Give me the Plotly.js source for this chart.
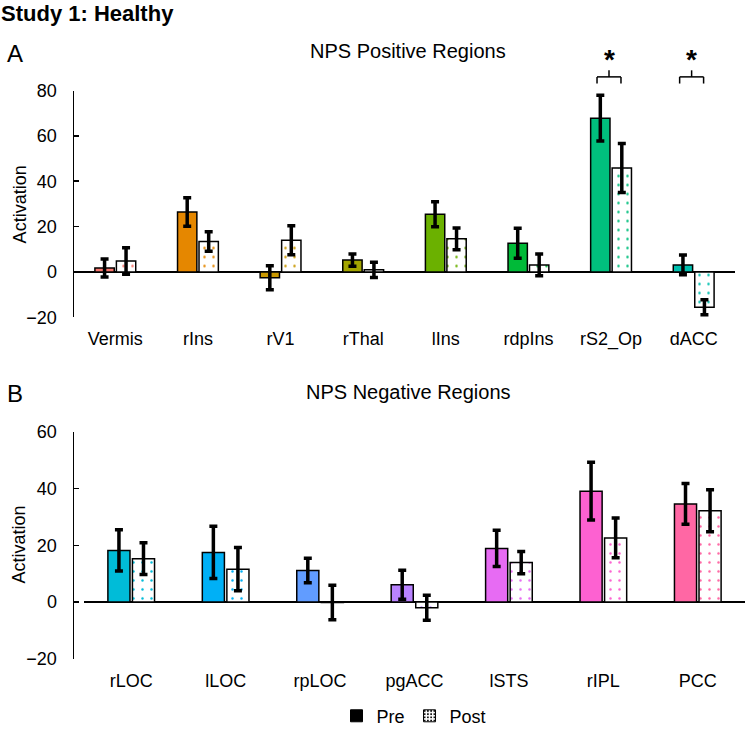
<!DOCTYPE html>
<html>
<head>
<meta charset="utf-8">
<script src="https://cdn.plot.ly/plotly-3.0.1.min.js"></script>
<style>html,body{margin:0;padding:0;background:#fff;}#chart{width:745px;height:735px;}</style>
</head>
<body>
<div id="chart"></div>
<script>
// ---- Data ----
const regionsA = ['Vermis', 'rIns', 'rV1', 'rThal', 'lIns', 'rdpIns', 'rS2_Op', 'dACC'];
const preA = [1.7, 26.4, -2.6, 5.2, 25.4, 12.6, 67.8, 3.1];
const preErrA = [4.0, 6.3, 5.3, 2.7, 5.5, 6.6, 10.1, 4.4];
const postA = [4.8, 13.4, 14.0, 0.9, 14.6, 3.1, 45.8, -15.6];
const postErrA = [5.8, 4.3, 6.4, 3.4, 4.8, 4.8, 10.8, 3.3];
const colorsA = ['#F8766D', '#E58700', '#C99800', '#A3A500', '#6BB100', '#00BA38', '#00BF7D', '#00C0AF'];
const significantA = ['rS2_Op', 'dACC'];

const regionsB = ['rLOC', 'lLOC', 'rpLOC', 'pgACC', 'lSTS', 'rIPL', 'PCC'];
const preB = [18.2, 17.5, 11.1, 6.1, 18.9, 39.1, 34.6];
const preErrB = [7.3, 9.2, 4.3, 5.1, 6.4, 10.2, 7.2];
const postB = [15.3, 11.6, -0.2, -2.0, 13.9, 22.6, 32.2];
const postErrB = [5.6, 7.6, 6.1, 4.4, 3.9, 7.0, 7.4];
const colorsB = ['#00BCD8', '#00B0F6', '#619CFF', '#B983FF', '#E76BF3', '#FD61D1', '#FF67A4'];

const ticksA = [-20, 0, 20, 40, 60, 80];
const ticksB = [-20, 0, 20, 40, 60];
const legendNames = ['Pre', 'Post'];

// ---- Styles ----
const FONT = 'Liberation Sans, Arial, sans-serif';
const lineStyle = {color: '#000', width: 1.5};
const errStyle = {type: 'data', color: '#000', thickness: 3.5, width: 4, visible: true};

function preTrace(x, y, err, colors, xa, ya) {
  return {type: 'bar', x: x, y: y, xaxis: xa, yaxis: ya, showlegend: false,
    marker: {color: colors, line: lineStyle},
    error_y: Object.assign({array: err}, errStyle), hoverinfo: 'x+y'};
}
function postTrace(x, y, err, colors, xa, ya) {
  return {type: 'bar', x: x, y: y, xaxis: xa, yaxis: ya, showlegend: false,
    marker: {color: '#fff', line: lineStyle,
      pattern: {shape: '.', fgcolor: colors, bgcolor: '#fff', size: 9, solidity: 0.06}},
    error_y: Object.assign({array: err}, errStyle), hoverinfo: 'x+y'};
}

const traces = [
  preTrace(regionsA, preA, preErrA, colorsA, 'x', 'y'),
  postTrace(regionsA, postA, postErrA, colorsA, 'x', 'y'),
  preTrace(regionsB, preB, preErrB, colorsB, 'x2', 'y2'),
  postTrace(regionsB, postB, postErrB, colorsB, 'x2', 'y2'),
  // legend-only entries (zero-height bars on a hidden axis pair)
  {type: 'bar', name: legendNames[0], x: ['a'], y: [0], xaxis: 'x3', yaxis: 'y3', hoverinfo: 'skip',
    marker: {color: '#000', line: {color: '#000', width: 1}}},
  {type: 'bar', name: legendNames[1], x: ['a'], y: [0], xaxis: 'x3', yaxis: 'y3', hoverinfo: 'skip',
    marker: {color: '#fff', line: {color: '#000', width: 1},
      pattern: {shape: '.', fgcolor: '#000', bgcolor: '#fff', size: 4, solidity: 0.25}}}
];

function yAxis(domain, range, tickvals) {
  return {domain: domain, range: range, tickvals: tickvals, ticks: 'inside', ticklen: 5, tickwidth: 1.5,
    tickcolor: '#000', showline: true, linecolor: '#000', linewidth: 1.5, zeroline: true,
    zerolinecolor: '#000', zerolinewidth: 1.5, showgrid: false, fixedrange: true,
    tickfont: {family: FONT, size: 18, color: '#000'}, ticklabelstandoff: 12};
}
function xAxis(domain, anchor) {
  return {domain: domain, anchor: anchor, type: 'category', showline: false, ticks: '', showgrid: false,
    zeroline: false, fixedrange: true, tickfont: {family: FONT, size: 18, color: '#000'}, ticklabelstandoff: 9};
}

const W = 745, H = 735;
const px = v => v / W;
const py = v => 1 - v / H;

const shapes = [];
const annotations = [
  {text: '<b>Study 1: Healthy</b>', x: 0, y: 1, xref: 'paper', yref: 'paper', xanchor: 'left', yanchor: 'top',
    borderpad: 0, showarrow: false, font: {family: FONT, size: 22, color: '#000'}},
  {text: 'A', x: px(5), y: py(53.5), xref: 'paper', yref: 'paper', xanchor: 'left', yanchor: 'middle',
    showarrow: false, font: {family: FONT, size: 24, color: '#000'}},
  {text: 'B', x: px(5), y: py(396), xref: 'paper', yref: 'paper', xanchor: 'left', yanchor: 'middle',
    showarrow: false, font: {family: FONT, size: 24, color: '#000'}},
  {text: 'NPS Positive Regions', x: px(407.5), y: py(51.5), xref: 'paper', yref: 'paper', xanchor: 'center', yanchor: 'middle',
    showarrow: false, font: {family: FONT, size: 20, color: '#000'}},
  {text: 'NPS Negative Regions', x: px(408), y: py(394.5), xref: 'paper', yref: 'paper', xanchor: 'center', yanchor: 'middle',
    showarrow: false, font: {family: FONT, size: 20, color: '#000'}},
  {text: 'Activation', x: px(19.5), y: py(206), xref: 'paper', yref: 'paper', xanchor: 'center', yanchor: 'middle',
    textangle: -90, showarrow: false, font: {family: FONT, size: 18, color: '#000'}},
  {text: 'Activation', x: px(19.5), y: py(548), xref: 'paper', yref: 'paper', xanchor: 'center', yanchor: 'middle',
    textangle: -90, showarrow: false, font: {family: FONT, size: 18, color: '#000'}}
];

significantA.forEach(name => {
  const i = regionsA.indexOf(name);
  const x0 = i - 0.17, x1 = i + 0.12, xc = (x0 + x1) / 2;
  const yBar = py(77.3), yEnd = py(84), yTop = py(70.7);
  const base = {type: 'line', xref: 'x', yref: 'paper', line: {color: '#000', width: 1.5}};
  shapes.push(Object.assign({x0: x0, x1: x1, y0: yBar, y1: yBar}, base));
  shapes.push(Object.assign({x0: x0, x1: x0, y0: yBar, y1: yEnd}, base));
  shapes.push(Object.assign({x0: x1, x1: x1, y0: yBar, y1: yEnd}, base));
  shapes.push(Object.assign({x0: xc, x1: xc, y0: yBar, y1: yTop}, base));
  annotations.push({text: '<b>*</b>', x: xc, y: py(60), xref: 'x', yref: 'paper', xanchor: 'center', yanchor: 'middle',
    showarrow: false, font: {family: FONT, size: 28, color: '#000'}});
});

const layout = {
  width: W, height: H,
  margin: {l: 0, r: 0, t: 0, b: 0},
  paper_bgcolor: '#fff', plot_bgcolor: 'rgba(0,0,0,0)',
  font: {family: FONT, color: '#000'},
  barmode: 'group', bargap: 0.48, bargroupgap: 0.1,
  showlegend: true,
  legend: {orientation: 'h', x: px(414), xanchor: 'center', y: py(720), yanchor: 'middle',
    font: {family: FONT, size: 18, color: '#000'}, bgcolor: 'rgba(0,0,0,0)', traceorder: 'normal'},
  xaxis: xAxis([px(74), px(735)], 'y'),
  yaxis: yAxis([py(319), py(91)], [-20, 80], ticksA),
  xaxis2: xAxis([px(84), 1], 'y2'),
  yaxis2: yAxis([py(662.3), py(434.3)], [-20, 60], ticksB),
  xaxis3: {domain: [0, 0.01], anchor: 'y3', visible: false, fixedrange: true},
  yaxis3: {domain: [0, 0.01], anchor: 'x3', visible: false, range: [1, 2], fixedrange: true},
  shapes: shapes,
  annotations: annotations
};

Plotly.newPlot('chart', traces, layout, {displayModeBar: false, staticPlot: true});
</script>
</body>
</html>
